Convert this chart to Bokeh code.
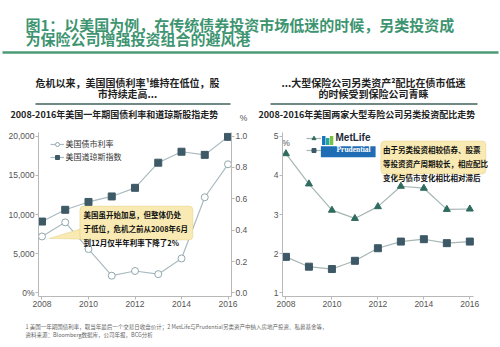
from bokeh.plotting import figure
from bokeh.models import (Range1d, LinearAxis, FixedTicker, Label, BoxAnnotation,
                          PolyAnnotation, Legend, LegendItem, NumeralTickFormatter)
from bokeh.layouts import column, row
from bokeh.embed import file_html
from bokeh.resources import INLINE

# ---------------- data ----------------
years = [2008, 2009, 2010, 2011, 2012, 2013, 2014, 2015, 2016]
dow_index = [9100, 10600, 11600, 12300, 13400, 16600, 18000, 17600, 19900]
bond_rate = [0.36, 0.45, 0.28, 0.11, 0.14, 0.12, 0.22, 0.61, 0.82]
metlife = [4.55, 3.78, 3.11, 2.90, 3.20, 3.72, 3.67, 3.13, 3.14]
prudential = [1.92, 1.67, 1.61, 1.82, 2.14, 2.31, 2.37, 2.27, 2.31]
x_ticks = [2008, 2010, 2012, 2014, 2016]
left_ticks = [0, 5000, 10000, 15000, 20000]
rate_ticks = [0.0, 0.2, 0.4, 0.6, 0.8, 1.0]
right_ticks = [1, 2, 3, 4, 5]

title_lines = ["图1：以美国为例，在传统债券投资市场低迷的时候，另类投资成",
               "为保险公司增强投资组合的避风港"]
left_sub = ["危机以来，美国国债利率¹维持在低位，股", "市持续走高..."]
right_sub = ["...大型保险公司另类资产²配比在债市低迷", "的时候受到保险公司青睐"]
left_chart_title = "2008-2016年美国一年期国债利率和道琼斯股指走势"
right_chart_title = "2008-2016年美国两家大型寿险公司另类投资配比走势"
left_legend = ["美国债市利率", "美国道琼斯指数"]
right_legend = ["MetLife", "Prudential"]
left_note = "美国虽开始加息，但整体仍处\n于低位，危机之前从2008年6月\n到12月仅半年利率下降了2%"
right_note = "由于另类投资相较债券、股票\n等投资资产周期较长，相应配比\n变化与债市变化相比相对滞后"
foot_lines = ["1 美国一年期国债利率，取当年最后一个交易日收盘价计；2 MetLife与Prudential另类资产中纳入房地产投资、私募基金等，",
              "资料来源：Bloomberg数据库，公司年报，BCG分析"]

CJK = "Noto Sans CJK SC"
SANS = "Liberation Sans"
GREEN = "#3d9470"
LINE_C = "#a9bbc0"
AXIS_C = "#b8b8b8"
TICK_TXT = "#555555"


def blank(w, h):
    p = figure(width=w, height=h, x_range=Range1d(0, w), y_range=Range1d(h, 0),
               output_backend="svg", toolbar_location=None, min_border=0,
               x_axis_location=None, y_axis_location=None)
    p.grid.visible = False
    p.outline_line_color = None
    p.background_fill_color = "white"
    p.border_fill_color = "white"
    return p


def style_axis(ax):
    ax.axis_line_color = AXIS_C
    ax.major_tick_line_color = AXIS_C
    ax.minor_tick_line_color = None
    ax.major_tick_in = 0
    ax.major_tick_out = 3
    ax.major_label_standoff = 1
    ax.major_label_text_font = SANS
    ax.major_label_text_font_size = "8.5px"
    ax.major_label_text_color = TICK_TXT


# ---------------- header ----------------
hd = blank(500, 125)
for i, t in enumerate(title_lines):
    hd.add_layout(Label(x=25, y=24 + 14 * i, text=t, text_font=CJK, text_font_style="bold",
                        text_font_size="15px", text_color=GREEN, text_baseline="middle"))
hd.segment(x0=[2], y0=[52], x1=[498], y1=[52], line_color="#4d9a76", line_width=2.5)
for i, t in enumerate(left_sub):
    hd.add_layout(Label(x=127, y=82 + 11 * i, text=t, text_font=CJK, text_font_style="bold",
                        text_font_size="10px", text_color="#222222", text_align="center",
                        text_baseline="middle"))
for i, t in enumerate(right_sub):
    hd.add_layout(Label(x=373, y=82 + 11 * i, text=t, text_font=CJK, text_font_style="bold",
                        text_font_size="10px", text_color="#222222", text_align="center",
                        text_baseline="middle"))
hd.segment(x0=[35, 270], y0=[103.5, 103.5], x1=[230, 477], y1=[103.5, 103.5],
           line_color="#3f625c", line_width=1.5)
hd.add_layout(Label(x=10, y=114, text=left_chart_title, text_font=CJK, text_font_style="bold",
                    text_font_size="9px", text_color="#222222", text_baseline="middle"))
hd.add_layout(Label(x=258, y=114, text=right_chart_title, text_font=CJK, text_font_style="bold",
                    text_font_size="9px", text_color="#222222", text_baseline="middle"))
hd.add_layout(Label(x=243, y=117, text="%", text_font=SANS, text_font_size="8.5px",
                    text_color=TICK_TXT, text_align="center", text_baseline="middle"))

# ---------------- left chart ----------------
pl = figure(width=250, height=190, x_range=Range1d(2007.85, 2016.15),
            y_range=Range1d(-450, 20450), output_backend="svg", toolbar_location=None,
            min_border_left=38, min_border_right=19, min_border_top=7, min_border_bottom=19)
pl.extra_y_ranges = {"rate": Range1d(-0.0225, 1.0225)}
pl.grid.visible = False
pl.outline_line_color = None
pl.xaxis.ticker = FixedTicker(ticks=x_ticks)
pl.yaxis.ticker = FixedTicker(ticks=left_ticks)
pl.yaxis.formatter = NumeralTickFormatter(format="0,0")
pl.yaxis.major_label_overrides = {0: "0%"}
rax = LinearAxis(y_range_name="rate", ticker=FixedTicker(ticks=rate_ticks),
                 formatter=NumeralTickFormatter(format="0.0"))
pl.add_layout(rax, "right")
for ax in [pl.xaxis[0], pl.yaxis[0], rax]:
    style_axis(ax)

# callout
pl.add_layout(PolyAnnotation(xs=[2008.3, 2009.7, 2010.45], ys=[6950, 8200, 6800],
                             fill_color="#f8eab2", fill_alpha=1, line_color="#d6bb62", line_width=1))
pl.add_layout(BoxAnnotation(left=2009.63, right=2014.49, top=11083, bottom=6752,
                            fill_color="#f8eab2", fill_alpha=1, line_color="#d6bb62",
                            line_width=1, border_radius=4))
pl.add_layout(Label(x=2009.78, y=10750, text=left_note, text_font=CJK, text_font_style="bold",
                    text_font_size="7.5px", text_color="#111111", text_baseline="top",
                    text_line_height=1.3))

r1l = pl.line(years, bond_rate, y_range_name="rate", line_color=LINE_C, line_width=1.2)
r1p = pl.scatter(years, bond_rate, y_range_name="rate", marker="circle", size=7,
                 fill_color="white", line_color="#90a7ae", line_width=1)
r2l = pl.line(years, dow_index, line_color=LINE_C, line_width=1.2)
r2p = pl.scatter(years, dow_index, marker="square", size=7, fill_color="#3e5a67",
                 line_color="#3e5a67")
lg = Legend(items=[LegendItem(label=left_legend[0], renderers=[r1l, r1p]),
                   LegendItem(label=left_legend[1], renderers=[r2l, r2p])],
            location=(11.5, 134), margin=0, padding=0, spacing=2,
            glyph_width=14, glyph_height=10, label_height=10, label_standoff=2,
            label_text_font=CJK, label_text_font_size="8px", label_text_color="#333333",
            background_fill_alpha=0, border_line_color=None)
pl.add_layout(lg)

# ---------------- right chart ----------------
pr = figure(width=250, height=190, x_range=Range1d(2007.85, 2016.9),
            y_range=Range1d(0.91, 5.09), output_backend="svg", toolbar_location=None,
            min_border_left=32, min_border_right=10, min_border_top=5, min_border_bottom=19)
pr.grid.visible = False
pr.outline_line_color = None
pr.xaxis.ticker = FixedTicker(ticks=x_ticks)
pr.xaxis.bounds = (2007.85, 2016.15)
pr.yaxis.ticker = FixedTicker(ticks=right_ticks)
for ax in [pr.xaxis[0], pr.yaxis[0]]:
    style_axis(ax)

pr.add_layout(Label(x=2008.0, y=4.83, text="%", text_font=SANS, text_font_size="8.5px",
                    text_color=TICK_TXT, text_align="center", text_baseline="middle"))

# callout
pr.add_layout(PolyAnnotation(xs=[2012.87, 2012.6, 2013.4], ys=[3.83, 4.06, 4.06],
                             fill_color="#f8eab2", fill_alpha=1, line_color="#d6bb62", line_width=1))
pr.add_layout(BoxAnnotation(left=2012.13, right=2016.70, top=4.874, bottom=4.03,
                            fill_color="#f8eab2", fill_alpha=1, line_color="#d6bb62",
                            line_width=1, border_radius=4))
pr.add_layout(Label(x=2012.22, y=4.80, text=right_note, text_font=CJK, text_font_style="bold",
                    text_font_size="7.5px", text_color="#111111", text_baseline="top",
                    text_line_height=1.3))

# logos behind legend labels
pr.add_layout(BoxAnnotation(left=2009.57, right=2009.72, top=5.0, bottom=4.77,
                            fill_color="#1a75bc", fill_alpha=1, line_color=None))
pr.add_layout(BoxAnnotation(left=2009.74, right=2009.89, top=4.95, bottom=4.77,
                            fill_color="#1fa7a0", fill_alpha=1, line_color=None))
pr.add_layout(BoxAnnotation(left=2009.91, right=2010.06, top=5.0, bottom=4.77,
                            fill_color="#7bbf43", fill_alpha=1, line_color=None))
pr.add_layout(BoxAnnotation(left=2009.52, right=2011.90, top=4.738, bottom=4.461,
                            fill_color="#1f6db4", fill_alpha=1, line_color=None))

m_l = pr.line(years, metlife, line_color="#a6b6b3", line_width=1.2)
m_p = pr.scatter(years, metlife, marker="triangle", size=7, fill_color="#2f6b5f",
                 line_color="#2f6b5f")
p_l = pr.line(years, prudential, line_color="#a6b6b3", line_width=1.2)
p_p = pr.scatter(years, prudential, marker="square", size=7, fill_color="#3d5866",
                 line_color="#3d5866")
lg1 = Legend(items=[LegendItem(label=right_legend[0], renderers=[m_l, m_p])],
             location=(23.5, 152.7), margin=0, padding=0, glyph_width=15, glyph_height=10,
             label_height=10, label_standoff=15, label_text_font=SANS,
             label_text_font_style="bold", label_text_font_size="10px",
             label_text_color="#1e2a3a", background_fill_alpha=0, border_line_color=None)
lg2 = Legend(items=[LegendItem(label=right_legend[1], renderers=[p_l, p_p])],
             location=(23.5, 141.5), margin=0, padding=0, glyph_width=15, glyph_height=10,
             label_height=10, label_standoff=16, label_text_font="Liberation Serif",
             label_text_font_style="bold", label_text_font_size="7.5px",
             label_text_color="#ffffff", background_fill_alpha=0, border_line_color=None)
pr.add_layout(lg1)
pr.add_layout(lg2)

# ---------------- footer ----------------
ft = blank(500, 32)
for i, t in enumerate(foot_lines):
    ft.add_layout(Label(x=25, y=11.5 + 7.5 * i, text=t, text_font=CJK, text_font_size="5.5px",
                        text_color="#666666", text_baseline="middle"))

layout = column(hd, row(pl, pr), ft)
open("out.html", "w").write(file_html(layout, INLINE))
